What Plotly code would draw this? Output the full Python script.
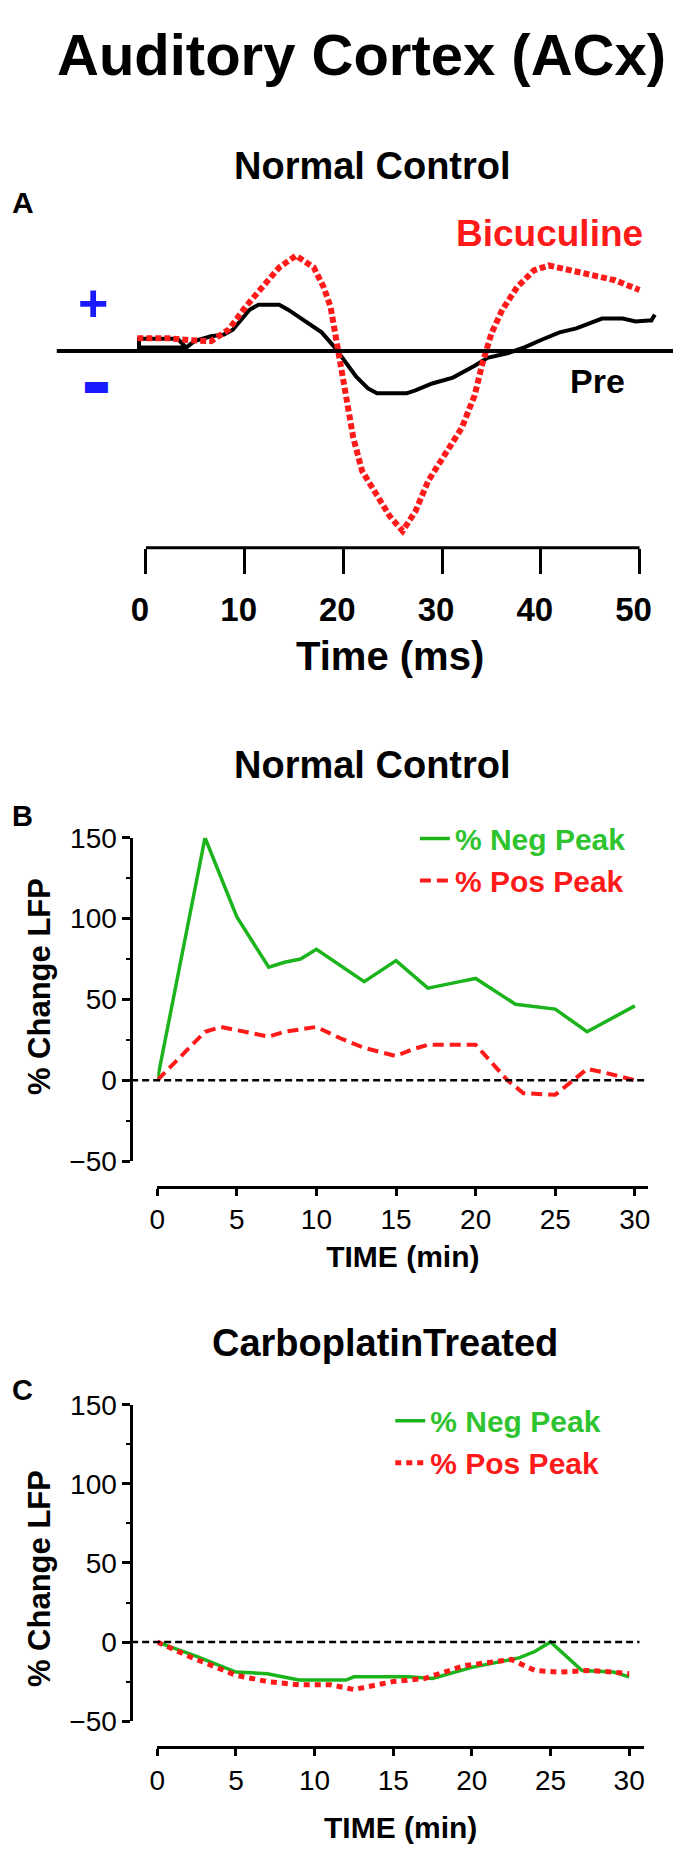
import plotly.graph_objects as go

# ---------------- data ----------------
# Panel A: LFP waveforms (time in ms, amplitude in arbitrary units)
A_pre_time = [4.1, -0.7, -0.7, 3.2, 4.1, 4.9, 6.6, 7.9, 8.8, 9.7, 10.5, 11.4, 13.5, 14.4, 16.1, 17.8,
              19.1, 20.0, 21.3, 22.5, 23.4, 26.4, 27.3, 29.0, 31.1, 33.3, 34.6, 36.7, 38.4, 40.2,
              41.9, 43.6, 45.3, 46.2, 48.3, 49.6, 50.9, 51.2, 51.55]
A_pre_amp = [3.5, 3.5, 12.5, 12.5, 3.5, 10, 15, 16.7, 21.7, 32, 42, 47, 47, 42, 31, 19,
             4, -8, -26, -38, -43, -43, -40, -33, -27, -15, -7, -2, 4, 12,
             19, 23, 29, 33, 33, 30, 31, 31, 37]
A_bic_time = [-0.87, 2.3, 4.5, 6.6, 8.4, 10.1, 11.8, 13.5, 15.2, 17.0, 18.0, 18.7, 19.1, 19.5,
              20.0, 20.4, 21.0, 21.9, 23.4, 24.7, 26.0, 27.3, 28.6, 30.3, 32.0, 33.3, 34.1,
              35.0, 36.1, 37.6, 39.3, 40.8, 43.2, 45.3, 47.5, 50.0]
A_bic_amp = [13, 13, 11, 10, 22, 45, 65, 85, 97, 85, 65, 45, 22, -2,
             -25, -55, -88, -122, -148, -168, -183, -163, -132, -105, -78, -45, -12,
             18, 42, 65, 82, 87, 82, 77, 72, 62]
A_ticks = [0, 10, 20, 30, 40, 50]

# Panel B: Normal Control, % change LFP vs time (min)
B_neg_time = [0, 3, 5, 7, 8, 9, 10, 13, 15, 17, 19, 20, 22.5, 24, 25, 27, 30]
B_neg_val = [0, 150, 101, 70, 73, 75, 81, 61, 74, 57, 61, 63, 47, 45, 44, 30, 46]
B_pos_time = [0, 3, 4, 5, 7, 8, 10, 11.5, 13, 15, 16, 17, 20, 22, 23, 25, 27, 28, 30]
B_pos_val = [0, 30, 33, 31, 27, 30, 33, 26, 20, 15, 19, 22, 22, 0, -8, -9, 7, 5, 0]

# Panel C: Carboplatin Treated
C_neg_time = [0, 2.5, 5, 7, 9, 12, 12.5, 16, 17.5, 20, 23, 24, 25, 27, 29, 30]
C_neg_val = [0, -9, -19, -20, -24, -24, -22, -22, -23, -16, -10, -6, 0, -18, -19, -22]
C_pos_time = [0, 2, 5, 7, 9, 11, 12.5, 15, 17, 19.5, 22.5, 24, 25.5, 27.5, 29, 30]
C_pos_val = [0, -9, -21, -25, -27, -27, -30, -25, -23, -15, -11, -18, -19, -18, -19, -20]

PCT_TICKS = [-50, 0, 50, 100, 150]
MIN_TICKS = [0, 5, 10, 15, 20, 25, 30]

# ---------------- layout helpers ----------------
W, H = 675, 1863
def fx(p):
    return p / W
def fy(p):
    return 1 - p / H

FONT = "Liberation Sans, Arial, sans-serif"
GREEN = "#1cb41c"
GREEN_T = "#2fc42f"
RED = "#ff1a1a"
BLUE = "#1a1aff"

fig = go.Figure()

# Panel A traces
fig.add_trace(go.Scatter(x=A_pre_time, y=A_pre_amp, mode="lines", xaxis="x", yaxis="y",
                         line=dict(color="black", width=4), showlegend=False, hoverinfo="skip"))
fig.add_trace(go.Scatter(x=A_bic_time, y=A_bic_amp, mode="lines", xaxis="x", yaxis="y",
                         line=dict(color=RED, width=6, dash="6px,3px"), showlegend=False, hoverinfo="skip"))

# Panel B traces
fig.add_trace(go.Scatter(x=B_neg_time, y=B_neg_val, mode="lines", xaxis="x2", yaxis="y2",
                         line=dict(color=GREEN, width=3.5), legend="legend",
                         name=f"<span style='color:{GREEN_T}'>% Neg Peak</span>"))
fig.add_trace(go.Scatter(x=B_pos_time, y=B_pos_val, mode="lines", xaxis="x2", yaxis="y2",
                         line=dict(color=RED, width=4, dash="11px,6px"), legend="legend",
                         name=f"<span style='color:{RED}'>% Pos Peak</span>"))

# Panel C traces
fig.add_trace(go.Scatter(x=C_neg_time, y=C_neg_val, mode="lines", xaxis="x3", yaxis="y3",
                         line=dict(color=GREEN, width=3.5), legend="legend2",
                         name=f"<span style='color:{GREEN_T}'>% Neg Peak</span>"))
fig.add_trace(go.Scatter(x=C_pos_time, y=C_pos_val, mode="lines", xaxis="x3", yaxis="y3",
                         line=dict(color=RED, width=5, dash="6px,5px"), legend="legend2",
                         name=f"<span style='color:{RED}'>% Pos Peak</span>"))

tick_font_A = dict(family=FONT, size=33, color="black", weight="bold")
tick_font = dict(family=FONT, size=28, color="black")
title_font_x = dict(family=FONT, size=30, color="black", weight="bold")

fig.update_layout(
    width=W, height=H,
    margin=dict(l=0, r=0, t=0, b=0),
    paper_bgcolor="white", plot_bgcolor="white",
    font=dict(family=FONT, color="black"),
    xaxis=dict(domain=[fx(49.5), 1], range=[-9.03, 53.39], anchor="y",
               showgrid=False, zeroline=False, showline=False,
               ticks="outside", ticklen=25, tickwidth=3, tickcolor="black",
               tickmode="array", tickvals=A_ticks, tickfont=tick_font_A,
               ticklabelstandoff=8, ticklabelshift=-6),
    yaxis=dict(domain=[fy(541.7), fy(190)], range=[-200, 151.7], visible=False),
    xaxis2=dict(domain=[fx(151.5), fx(650)], range=[0, 30.85], anchor="free",
                position=fy(1191.7), showgrid=False, zeroline=False,
                showline=True, linewidth=2.5, linecolor="black",
                ticks="outside", ticklen=7, tickwidth=2.5, tickcolor="black",
                tickmode="array", tickvals=MIN_TICKS, tickfont=tick_font,
                title=dict(text="TIME (min)", font=title_font_x, standoff=11)),
    yaxis2=dict(domain=[fy(1165.5), fy(836.7)], range=[-50, 150], anchor="free",
                position=fx(125), showgrid=False, zeroline=False,
                showline=True, linewidth=2.5, linecolor="black",
                ticks="outside", ticklen=8, tickwidth=2.5, tickcolor="black",
                tickmode="array", tickvals=PCT_TICKS, tickfont=tick_font,
                minor=dict(ticks="outside", ticklen=4, tickwidth=2, dtick=25, tickcolor="black")),
    xaxis3=dict(domain=[fx(151.5), fx(645.7)], range=[0, 30.95], anchor="free",
                position=fy(1761.7), showgrid=False, zeroline=False,
                showline=True, linewidth=2.5, linecolor="black",
                ticks="outside", ticklen=7, tickwidth=2.5, tickcolor="black",
                tickmode="array", tickvals=MIN_TICKS, tickfont=tick_font,
                title=dict(text="TIME (min)", font=title_font_x, standoff=22)),
    yaxis3=dict(domain=[fy(1735), fy(1413.3)], range=[-50, 150], anchor="free",
                position=fx(125), showgrid=False, zeroline=False,
                showline=True, linewidth=2.5, linecolor="black",
                ticks="outside", ticklen=8, tickwidth=2.5, tickcolor="black",
                tickmode="array", tickvals=PCT_TICKS, tickfont=tick_font,
                minor=dict(ticks="outside", ticklen=4, tickwidth=2, dtick=25, tickcolor="black")),
    legend=dict(x=fx(413), y=fy(811), xanchor="left", yanchor="top",
                bgcolor="rgba(0,0,0,0)", borderwidth=0,
                font=dict(family=FONT, size=30, weight="bold")),
    legend2=dict(x=fx(388), y=fy(1403), xanchor="left", yanchor="top",
                 bgcolor="rgba(0,0,0,0)", borderwidth=0,
                 font=dict(family=FONT, size=30, weight="bold")),
)

shapes = [
    # Panel A time axis line (0 to 50 ms)
    dict(type="line", xref="x", yref="paper", x0=A_ticks[0], x1=A_ticks[-1],
         y0=fy(541.7), y1=fy(541.7), line=dict(color="black", width=3)),
    # Panel A baseline
    dict(type="line", xref="paper", yref="y", x0=fx(49.5), x1=1, y0=0, y1=0,
         line=dict(color="black", width=4)),
    # Panel B zero reference
    dict(type="line", xref="paper", yref="y2", x0=fx(125), x1=fx(646), y0=0, y1=0,
         line=dict(color="black", width=2.5, dash="7px,4px")),
    # Panel C zero reference
    dict(type="line", xref="paper", yref="y3", x0=fx(125), x1=fx(641), y0=0, y1=0,
         line=dict(color="black", width=2.5, dash="7px,4px")),
]
fig.update_layout(shapes=shapes)

def ann(text, x, y, size, color="black", bold=True, angle=0, family=FONT):
    return dict(text=text, x=fx(x), y=fy(y), xref="paper", yref="paper",
                xanchor="center", yanchor="middle", showarrow=False, textangle=angle,
                font=dict(family=family, size=size, color=color,
                          weight="bold" if bold else "normal"))

annotations = [
    ann("Auditory Cortex (ACx)", 359, 40, 58),
    ann("Normal Control", 370, 154, 38),
    ann("A", 15, 191, 30),
    ann("Bicuculine", 550, 222, 37, color=RED),
    ann("Pre", 598, 372, 34),
    ann("+", 86, 293, 52, color=BLUE),
    ann("▬", 89, 376, 30, color=BLUE, family="DejaVu Sans"),
    ann("Time (ms)", 388, 652, 40),
    ann("Normal Control", 370, 763, 38),
    ann("B", 15, 815, 29),
    ann("% Change LFP", 32, 988, 31, angle=-90),
    ann("CarboplatinTreated", 383, 1350, 38),
    ann("C", 15, 1398, 29),
    ann("% Change LFP", 32, 1590, 31, angle=-90),
]
fig.update_layout(annotations=annotations)

fig.write_html("out.html", config={"displayModeBar": False},
               post_script="document.body.style.margin='0';document.body.style.padding='0';")
